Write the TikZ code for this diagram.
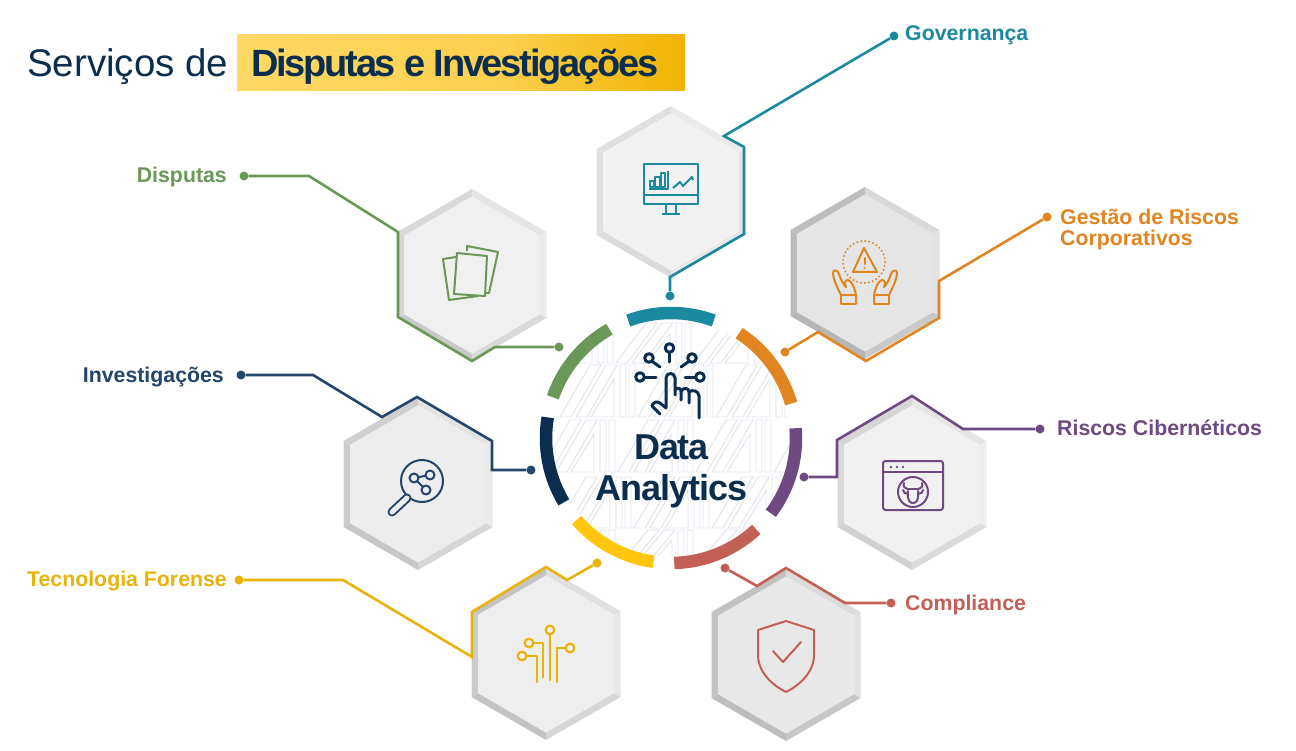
\documentclass[tikz,border=0pt]{standalone}
\usepackage{fontspec}
\setmainfont{Liberation Sans}
\newfontfamily\tightfont[LetterSpace=-5.9]{Liberation Sans}
\newfontfamily\tightb[LetterSpace=-3.0]{Liberation Sans}
\definecolor{navy}{HTML}{0B2E4F}
\definecolor{navyl}{HTML}{25466B}
\definecolor{teal}{HTML}{1B8AA0}
\definecolor{orangeA}{HTML}{E08520}
\definecolor{greenA}{HTML}{6A9858}
\definecolor{purpleA}{HTML}{6F4A82}
\definecolor{redA}{HTML}{C45F55}
\definecolor{yellowA}{HTML}{FFC60B}
\definecolor{yellowB}{HTML}{E8B40A}
\definecolor{patt}{HTML}{DFE3EC}
\definecolor{tA}{HTML}{FFD966}
\definecolor{tB}{HTML}{FBCF4E}
\definecolor{tC}{HTML}{F0B400}
\pgfdeclarehorizontalshading{titlegrad}{100bp}{color(0bp)=(tA); color(25bp)=(tA); color(55bp)=(tB); color(75bp)=(tC); color(100bp)=(tC)}
\newcommand{\hexa}[9]{%
 \fill[fill=#4] (#1,#2-86) -- (#1,#2-78.5) -- (#1-67.8,#2-39.2) -- (#1-74.5,#2-43) -- cycle;
 \fill[fill=#5] (#1,#2-86) -- (#1,#2-78.5) -- (#1+67.8,#2-39.2) -- (#1+74.5,#2-43) -- cycle;
 \fill[fill=#6] (#1+74.5,#2-43) -- (#1+67.8,#2-39.2) -- (#1+67.8,#2+39.2) -- (#1+74.5,#2+43) -- cycle;
 \fill[fill=#7] (#1+74.5,#2+43) -- (#1+67.8,#2+39.2) -- (#1,#2+78.5) -- (#1,#2+86) -- cycle;
 \fill[fill=#8] (#1-74.5,#2+43) -- (#1-67.8,#2+39.2) -- (#1,#2+78.5) -- (#1,#2+86) -- cycle;
 \fill[fill=#9] (#1-74.5,#2-43) -- (#1-67.8,#2-39.2) -- (#1-67.8,#2+39.2) -- (#1-74.5,#2+43) -- cycle;
 \fill[fill=#3] (#1,#2-78.5) -- (#1+67.8,#2-39.2) -- (#1+67.8,#2+39.2) -- (#1,#2+78.5) -- (#1-67.8,#2+39.2) -- (#1-67.8,#2-39.2) -- cycle;
}
\newcommand{\ringarc}[3]{%
 \draw[ring,#3] ({671+125*cos(#1)},{438-125*sin(#1)}) arc[start angle={-(#1)},end angle={-(#2)},radius=125];
}
\newcommand{\motif}{%
 (0,52)--(30,0)--(41,0)--(11,52)--cycle
 (16,52)--(46,0)--(57,0)--(27,52)--cycle
 (31,52)--(54,14)--(54,52)--cycle
 (60,0)--(60,52)--(66,52)--(66,0)--cycle
 (69,0)--(69,52)--(75,52)--(75,0)--cycle
}
\tikzset{
 ring/.style={line width=12.5pt,line cap=butt},
 conn/.style={line width=2.6pt,line join=miter},
 enddot/.style={circle,inner sep=0pt,minimum size=9pt},
 lab/.style={font=\fontsize{21.3}{21.3}\selectfont\bfseries,inner sep=0pt},
 icon/.style={line width=2pt,line join=round,line cap=round},
}
\begin{document}
\begin{tikzpicture}[x=1pt,y=-1pt]
\useasboundingbox (0,0) rectangle (1296,751);
\fill[white] (0,0) rectangle (1296,751);
% title
\shade[shading=titlegrad] (237,35) rectangle (685,91);
\node[anchor=base west,inner sep=0pt,text=navy,font=\fontsize{38.5}{38.5}\selectfont] (t1) at (27,77) {Serviços de};
\node[anchor=base west,inner sep=0pt,text=navy,font=\tightfont\fontsize{38}{38}\selectfont\bfseries] (t2) at (251,77) {Disputas e Investigações};
% hexagons
\hexa{671}{192}{black!5}{black!12}{black!8}{black!11}{black!9}{black!14}{black!12}
\hexa{865}{273}{black!10}{black!26}{black!15}{black!11}{black!21}{black!29}{black!27}
\hexa{472}{275}{black!6}{black!15}{black!10}{black!8}{black!15}{black!21}{black!17}
\hexa{418}{484}{black!7}{black!19}{black!11}{black!8}{black!16}{black!22}{black!20}
\hexa{912}{484}{black!5.5}{black!16}{black!10}{black!6.5}{black!14}{black!18}{black!15}
\hexa{546}{654}{black!6.5}{black!23}{black!12}{black!9}{black!16}{black!23}{black!20}
\hexa{786}{655}{black!9}{black!24}{black!14}{black!11}{black!22}{black!26}{black!24}
% central pattern
\begin{scope}
\clip (671,438) circle[radius=119];
\foreach \rx/\ry/\sy in {538/323/0.77, 560/365/1, 540/420/1, 556/477/0.98, 540/530/0.7}{
 \foreach \i in {0,1,2,3}{
  \draw[patt,line width=0.9pt,shift={(\rx+\i*78,\ry)},yscale=\sy] \motif;
 }
}
\end{scope}
% ring
\ringarc{70}{110}{teal}
\ringarc{57}{16}{orangeA}
\ringarc{4.5}{-37}{purpleA}
\ringarc{-47}{-88.5}{redA}
\ringarc{262}{221}{yellowA}
\ringarc{211}{170.5}{navy}
\ringarc{161}{119.5}{greenA}
% connectors
\node[enddot,fill=teal] (govA) at (894,36) {};
\node[enddot,fill=teal] (govB) at (670,296) {};
\draw[conn,teal] (govA) -- (724,136) -- (744,147) -- (744,234) -- (670,277) -- (govB);
\node[enddot,fill=orangeA] (riskA) at (1047,217) {};
\node[enddot,fill=orangeA] (riskB) at (785,352) {};
\draw[conn,orangeA] (riskA) -- (939,281) -- (939,318) -- (866,361) -- (818,332) -- (riskB);
\node[enddot,fill=greenA] (dispA) at (244,176) {};
\node[enddot,fill=greenA] (dispB) at (559,347) {};
\draw[conn,greenA] (dispA) -- (309,176) -- (398,232) -- (398,317) -- (472,361) -- (495,347) -- (dispB);
\node[enddot,fill=navyl] (invA) at (241,375) {};
\node[enddot,fill=navyl] (invB) at (531,470) {};
\draw[conn,navyl] (invA) -- (313,375) -- (382,417) -- (417,397) -- (492,441) -- (492,470) -- (invB);
\node[enddot,fill=purpleA] (cybA) at (1040,429) {};
\node[enddot,fill=purpleA] (cybB) at (804,477) {};
\draw[conn,purpleA] (cybA) -- (963,429) -- (912,396) -- (837,440) -- (837,477) -- (cybB);
\node[enddot,fill=yellowB] (tecA) at (239,580) {};
\node[enddot,fill=yellowB] (tecB) at (597,563) {};
\draw[conn,yellowB] (tecA) -- (343,580) -- (472,657) -- (472,612) -- (546,567) -- (567,580) -- (tecB);
\node[enddot,fill=redA] (comA) at (891,603) {};
\node[enddot,fill=redA] (comB) at (725,568) {};
\draw[conn,redA] (comA) -- (845,603) -- (786,568) -- (757,586) -- (comB);
% labels
\node[lab,anchor=base west,text=teal] (lGov) at (905,41) {Governança};
\node[lab,anchor=base west,text=orangeA] (lRisk1) at (1060,225) {Gestão de Riscos};
\node[lab,anchor=base west,text=orangeA] (lRisk2) at (1060,246) {Corporativos};
\node[lab,anchor=base west,text=purpleA] (lCyb) at (1057,435) {Riscos Cibernéticos};
\node[lab,anchor=base west,text=redA] (lCom) at (905,610) {Compliance};
\node[lab,anchor=base east,text=greenA] (lDis) at (227,183) {Disputas};
\node[lab,anchor=base east,text=navyl] (lInv) at (224,382) {Investigações};
\node[lab,anchor=base east,text=yellowB] (lTec) at (227,586) {Tecnologia Forense};
% centre text
\node[anchor=base,inner sep=0pt,text=navy,font=\tightb\fontsize{36}{36}\selectfont\bfseries] (dA) at (671.5,459) {Data};
\node[anchor=base,inner sep=0pt,text=navy,font=\tightb\fontsize{36}{36}\selectfont\bfseries] (dB) at (671.5,500) {Analytics};
% hand icon
\begin{scope}[icon,navy,line width=3pt]
 \foreach \cx/\cy in {669.5/348,649/358,692/358,640/377,700/377}{\draw (\cx,\cy) circle[radius=4.3];}
 \draw (669.5,353) -- (669.5,362);
 \draw (653,362) -- (660,367);
 \draw (688,362) -- (681,367);
 \draw (645,377) -- (656,377);
 \draw (695,377) -- (685,377);
 \draw (660,414) -- (652,406) .. controls (653,402) and (657,401) .. (660,403) -- (666,408) -- (666,378) .. controls (666,372) and (675,372) .. (675,378) -- (675,395);
 \draw (675,390) .. controls (677,387) and (681,388) .. (681,391) -- (681,400);
 \draw (681,391) .. controls (684,387) and (689,388) .. (689,392) -- (689,403);
 \draw (689,392) .. controls (692,389) and (699,391) .. (699,396) -- (699,418);
\end{scope}
% monitor icon
\begin{scope}[icon,teal,line cap=butt]
 \draw (644,164) rectangle (698,204);
 \draw (644,195) -- (698,195);
 \draw (666,204) -- (666,214) (676,204) -- (676,214) (662,214) -- (680,214);
 \draw (668,171) -- (668,189) -- (649,189);
 \draw (650,187) rectangle (654,181) (655,187) rectangle (660,177) (661,187) rectangle (665,173);
 \draw (673,188) -- (680,182) -- (683,186) -- (692,177) -- (693,180);
\end{scope}
% warning hands icon
\begin{scope}[icon,orangeA]
 \draw[line width=2.2pt,dash pattern=on 0pt off 4pt] (864,262) circle[radius=21];
 \draw (864,248) -- (853,272) -- (877,272) -- cycle;
 \draw (864.5,258) -- (864.5,264);
 \fill (864.5,268) circle[radius=1.1];
 \foreach \sx in {1,-1}{
  \begin{scope}[shift={(865,0)},xscale=\sx,shift={(-865,0)}]
  \draw (841,295) .. controls (836,285) and (833,278) .. (833,273) .. controls (833,269) and (838,270) .. (839,274) .. controls (841,280) and (843,284) .. (846,287);
  \draw (846,287) .. controls (844,283) and (845,280) .. (848,280) .. controls (852,281) and (855,289) .. (856,295);
  \draw (841,295) rectangle (856,304);
  \end{scope}
 }
\end{scope}
% docs icon
\begin{scope}[icon,greenA,line cap=butt]
 \draw (457,253) -- (487,256) -- (485,296) -- (454,294) -- cycle;
 \draw (456,257) -- (443,259) -- (449,300) -- (478,296);
 \draw (467,251) -- (467,246) -- (498,252) -- (489,293) -- (486,293);
\end{scope}
% search icon
\begin{scope}[icon,navyl]
 \draw (422,481) circle[radius=21];
 \draw (414,478) -- (430,475) (414,478) -- (426,490);
 \foreach \cx/\cy in {414/478,430/475,426/490}{\draw[fill=black!7] (\cx,\cy) circle[radius=4.5];}
 \draw[line width=9pt] (392,512) -- (407,498);
 \draw[line width=5pt,black!7] (392,512) -- (407,498);
\end{scope}
% browser bug icon
\begin{scope}[icon,purpleA]
 \draw[rounded corners=2.5pt] (883,461) rectangle (943,510);
 \draw (883,472) -- (943,472);
 \foreach \cx in {891,897,903}{\fill (\cx,467) circle[radius=1.4];}
 \draw (913,492) circle[radius=15];
 \draw (908,489) -- (918,489);
 \draw (908,491) .. controls (907,501) and (910,503) .. (913,503) .. controls (916,503) and (919,501) .. (918,491);
 \foreach \sx in {1,-1}{
  \begin{scope}[shift={(913,0)},xscale=\sx,shift={(-913,0)}]
  \draw (908,489) .. controls (904,488) and (903,486) .. (904,483);
  \draw (908,494) .. controls (905,494) and (903,492) .. (903,490);
  \end{scope}
 }
\end{scope}
% circuit icon
\begin{scope}[icon,yellowB,line width=2.2pt]
 \foreach \cx/\cy in {550/630,529/643,522/656,570/648}{\draw (\cx,\cy) circle[radius=4.3];}
 \draw (550,634.5) -- (550,680);
 \draw (533.5,643) -- (543,643) -- (543,677);
 \draw (526.5,656) -- (537,656) -- (537,682);
 \draw (565.5,648) -- (557,648) -- (557,682);
\end{scope}
% shield icon
\begin{scope}[icon,redA]
 \draw (786,621) -- (758,630) -- (758,655) .. controls (758,672) and (772,685) .. (786,692) .. controls (800,685) and (814,672) .. (814,655) -- (814,630) -- cycle;
 \draw (773,651) -- (783,662) -- (801,642);
\end{scope}
\end{tikzpicture}
\end{document}
